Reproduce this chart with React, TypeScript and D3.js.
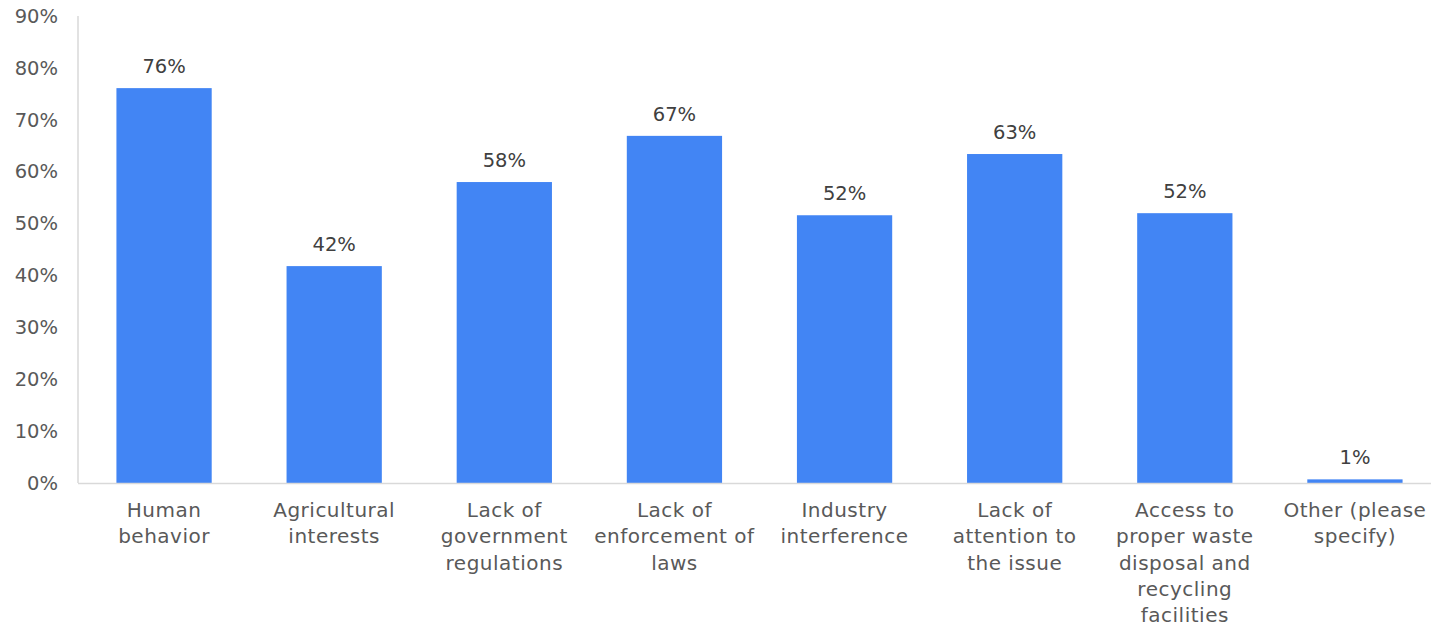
import React from "react";
import * as d3 from "d3";

const categories = [
  ["Human", "behavior"],
  ["Agricultural", "interests"],
  ["Lack of", "government", "regulations"],
  ["Lack of", "enforcement of", "laws"],
  ["Industry", "interference"],
  ["Lack of", "attention to", "the issue"],
  ["Access to", "proper waste", "disposal and", "recycling", "facilities"],
  ["Other (please", "specify)"],
];
const values = [76.1, 41.8, 58.0, 66.9, 51.6, 63.4, 52.0, 0.7];
const valueLabels = ["76%", "42%", "58%", "67%", "52%", "63%", "52%", "1%"];
const yTicks = [0, 10, 20, 30, 40, 50, 60, 70, 80, 90];

const FONT = "'DejaVu Sans', sans-serif";

const App = () => {
  const width = 1431;
  const height = 628;
  const margin = { left: 79, top: 16, bottom: 483, right: 1440 };

  const xScale = d3
    .scaleBand<number>()
    .domain(d3.range(categories.length))
    .range([margin.left, margin.right])
    .paddingInner(0.44)
    .paddingOuter(0.22);

  const yScale = d3.scaleLinear().domain([0, 90]).range([margin.bottom, margin.top]);

  return (
    <svg
      width={width}
      height={height}
      style={{ position: "absolute", left: 0, top: 0, background: "#fff" }}
      fontFamily={FONT}
    >
      {/* y axis line */}
      <line x1={78} x2={78} y1={yScale(90)} y2={yScale(0)} stroke="#d9d9d9" strokeWidth={1.5} />

      {/* y tick labels */}
      {yTicks.map((t) => (
        <text
          key={t}
          x={58}
          y={yScale(t)}
          dy="0.35em"
          textAnchor="end"
          fontSize={19.5}
          fill="#595959"
        >
          {t}%
        </text>
      ))}

      {/* bars */}
      {values.map((v, i) => (
        <rect
          key={i}
          x={xScale(i)}
          y={yScale(v)}
          width={xScale.bandwidth()}
          height={yScale(0) - yScale(v)}
          fill="#4285f4"
        />
      ))}

      {/* x axis baseline */}
      <line x1={78} x2={width} y1={yScale(0) + 0.5} y2={yScale(0) + 0.5} stroke="#d9d9d9" strokeWidth={1.5} />

      {/* value labels */}
      {values.map((v, i) => (
        <text
          key={i}
          x={(xScale(i) || 0) + xScale.bandwidth() / 2}
          y={yScale(v) - 15}
          textAnchor="middle"
          fontSize={19.5}
          fill="#404040"
        >
          {valueLabels[i]}
        </text>
      ))}

      {/* category labels */}
      {categories.map((lines, i) => (
        <text
          key={i}
          x={(xScale(i) || 0) + xScale.bandwidth() / 2}
          y={517}
          textAnchor="middle"
          fontSize={20}
          letterSpacing={0.5}
          fill="#595959"
        >
          {lines.map((l, j) => (
            <tspan key={j} x={(xScale(i) || 0) + xScale.bandwidth() / 2} dy={j === 0 ? 0 : 26.3}>
              {l}
            </tspan>
          ))}
        </text>
      ))}
    </svg>
  );
};

export default App;
